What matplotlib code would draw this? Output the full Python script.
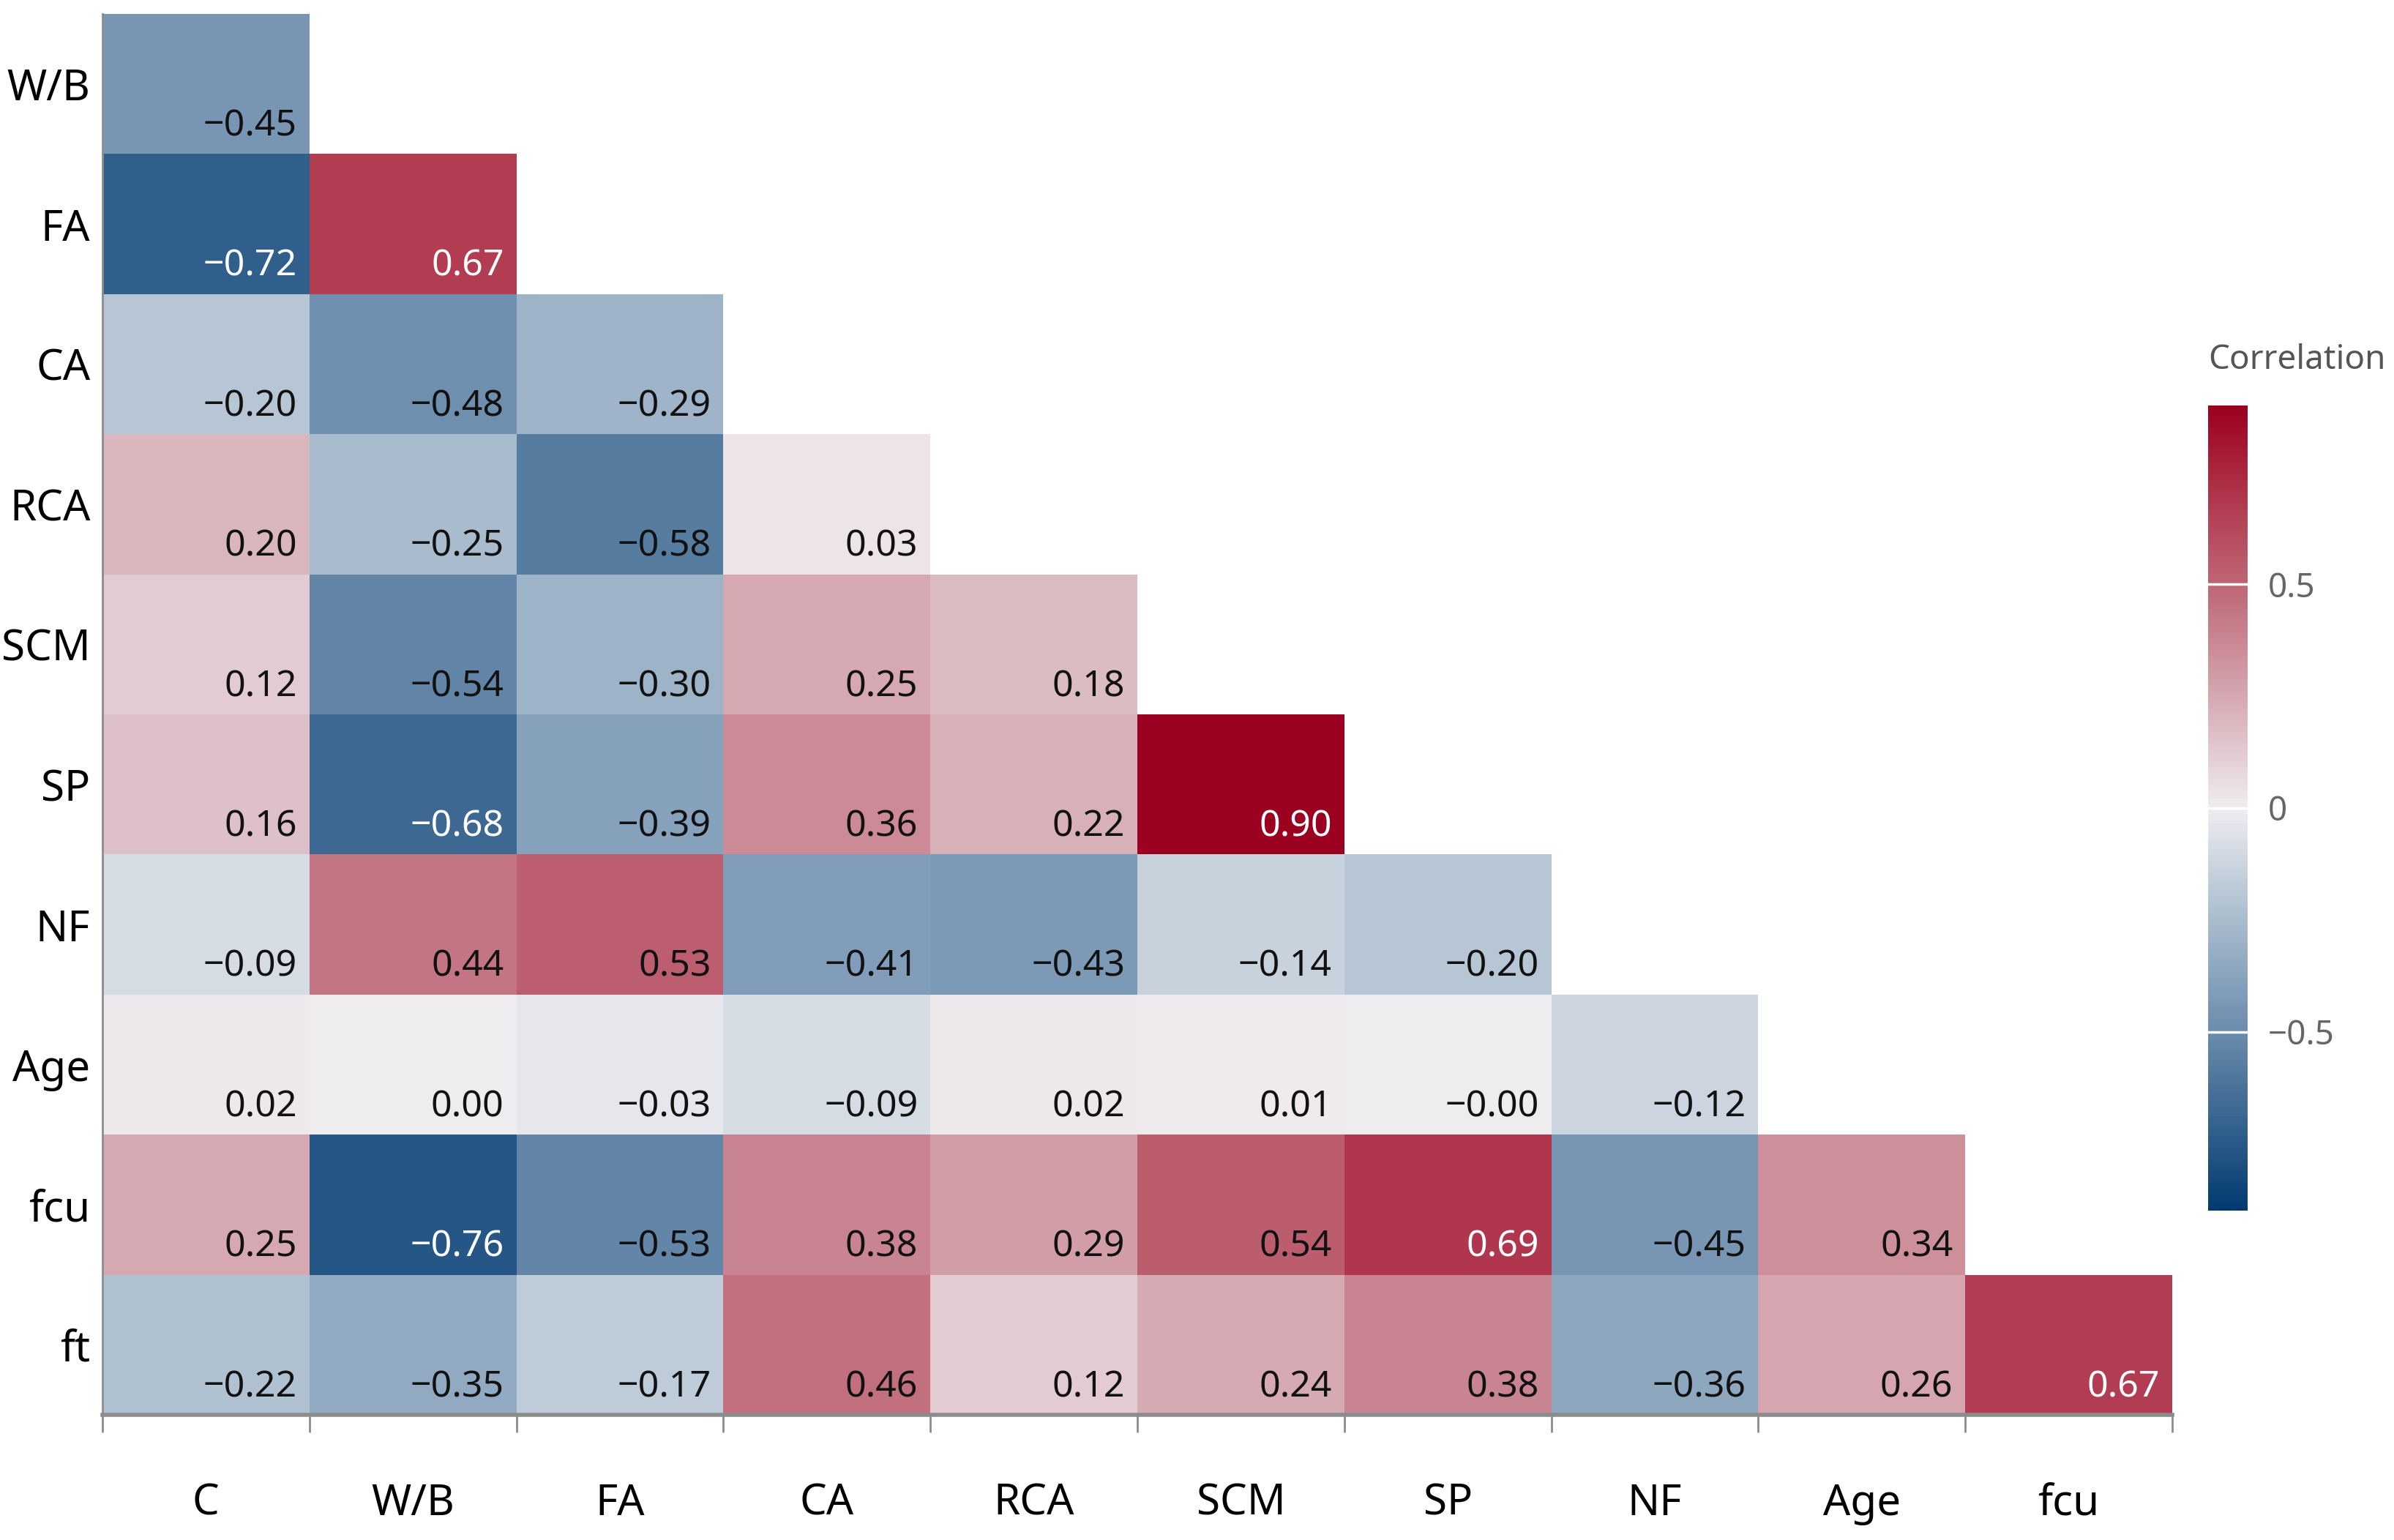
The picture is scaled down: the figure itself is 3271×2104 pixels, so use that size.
import numpy as np
import matplotlib
matplotlib.use('Agg')
import matplotlib.pyplot as plt
from matplotlib.colors import LinearSegmentedColormap

plt.rcParams['font.family'] = ['Noto Sans', 'DejaVu Sans']

# variables on the axes
col_labels = ['C', 'W/B', 'FA', 'CA', 'RCA', 'SCM', 'SP', 'NF', 'Age', 'fcu']
row_labels = ['W/B', 'FA', 'CA', 'RCA', 'SCM', 'SP', 'NF', 'Age', 'fcu', 'ft']

# lower triangle of the correlation matrix, one list per row
r_wb = [-0.45]
r_fa = [-0.72, 0.67]
r_ca = [-0.20, -0.48, -0.29]
r_rca = [0.20, -0.25, -0.58, 0.03]
r_scm = [0.12, -0.54, -0.30, 0.25, 0.18]
r_sp = [0.16, -0.68, -0.39, 0.36, 0.22, 0.90]
r_nf = [-0.09, 0.44, 0.53, -0.41, -0.43, -0.14, -0.20]
r_age = [0.02, 0.00, -0.03, -0.09, 0.02, 0.01, -0.00, -0.12]
r_fcu = [0.25, -0.76, -0.53, 0.38, 0.29, 0.54, 0.69, -0.45, 0.34]
r_ft = [-0.22, -0.35, -0.17, 0.46, 0.12, 0.24, 0.38, -0.36, 0.26, 0.67]
rows = [r_wb, r_fa, r_ca, r_rca, r_scm, r_sp, r_nf, r_age, r_fcu, r_ft]

cbar_ticks = [-0.5, 0, 0.5]
cbar_ticklabels = ['\u22120.5', '0', '0.5']

# colour scale (red-blue, muted like the original)
anchors = [
    (-0.90, '#023a70'),
    (-0.72, '#32608c'),
    (-0.45, '#7896b4'),
    (-0.20, '#b6c6d4'),
    (0.00, '#efedf0'),
    (0.20, '#dab6be'),
    (0.46, '#c2707e'),
    (0.67, '#b23d52'),
    (0.90, '#9b0020'),
]
vmin, vmax = -0.9, 0.9
cmap = LinearSegmentedColormap.from_list(
    'corr', [((v - vmin) / (vmax - vmin), c) for v, c in anchors])

n = len(row_labels)
mat = np.full((n, len(col_labels)), np.nan)
for i, r in enumerate(rows):
    mat[i, :len(r)] = r
masked = np.ma.masked_invalid(mat)

fig = plt.figure(figsize=(32.71, 21.04), dpi=100)
ax = fig.add_axes([0.0428, 0.0813, 0.8646, 0.9097])
mesh = ax.pcolormesh(np.arange(len(col_labels) + 1), np.arange(n + 1), masked,
                     cmap=cmap, vmin=vmin, vmax=vmax)
ax.set_xlim(0, len(col_labels))
ax.set_ylim(n, 0)

# value labels in the lower right corner of each cell
for i, r in enumerate(rows):
    for j, v in enumerate(r):
        txt = f'{v:.2f}'.replace('-', '\u2212')
        col = 'white' if abs(v) >= 0.6 else '#111111'
        ax.text(j + 1 - 0.06, i + 1 - 0.13, txt, ha='right', va='baseline',
                fontsize=36, color=col,
                fontweight='semibold' if abs(v) >= 0.6 else 'normal')

# axes, ticks and labels
ax.set_xticks(np.arange(len(col_labels)) + 0.5)
ax.set_xticklabels(col_labels)
ax.set_xticks(np.arange(len(col_labels) + 1), minor=True)
ax.set_yticks(np.arange(n) + 0.5)
ax.set_yticklabels(row_labels)
ax.tick_params(axis='x', which='major', length=0, pad=66, labelsize=42)
ax.tick_params(axis='x', which='minor', length=17, width=2, color='#8c8c8c')
ax.tick_params(axis='y', which='both', length=0, pad=12, labelsize=42)
for s in ['top', 'right']:
    ax.spines[s].set_visible(False)
ax.spines['left'].set_color('#8c8c8c')
ax.spines['left'].set_linewidth(2)
ax.spines['bottom'].set_color('#8c8c8c')
ax.spines['bottom'].set_linewidth(4)

# colour bar
cax = fig.add_axes([0.9224, 0.2139, 0.0165, 0.5228])
cb = fig.colorbar(mesh, cax=cax, ticks=cbar_ticks)
cb.outline.set_visible(False)
cb.set_ticklabels(cbar_ticklabels)
cax.tick_params(length=0, pad=20, labelsize=33, labelcolor='#666666')
for t in cbar_ticks:
    cax.axhline(t, color='white', lw=2.5)
fig.text(0.9224, 0.7605, 'Correlation', ha='left', va='baseline',
         fontsize=33, color='#555555')

fig.savefig('out.png', dpi=100)
